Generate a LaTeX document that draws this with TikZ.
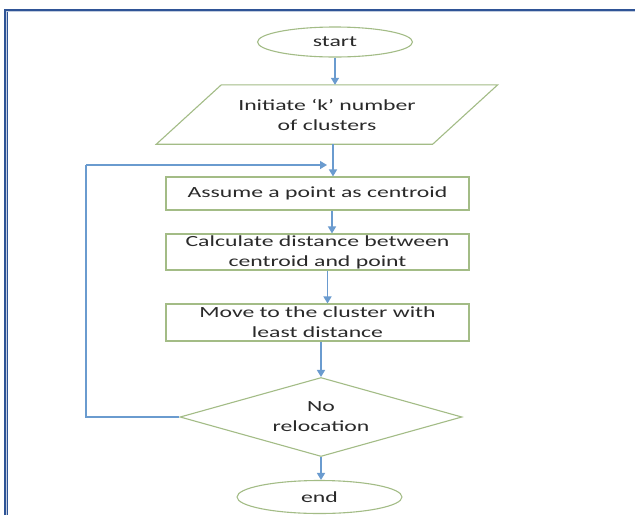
\documentclass[tikz,border=0pt]{standalone}
\usepackage{fontspec}
\setmainfont{Carlito}[FakeStretch=1.53]
\usetikzlibrary{arrows.meta,shapes.geometric}
\definecolor{shapegreen}{HTML}{A3BC86}
\definecolor{arrblue}{HTML}{6A9BCF}
\definecolor{framebl}{HTML}{2F5496}
\definecolor{txt}{HTML}{2A2A2A}
\tikzset{
  every node/.style={text=txt, font=\fontsize{15.5}{20}\selectfont, align=center, inner sep=0pt},
  term/.style={ellipse, draw=shapegreen, line width=1.1pt},
  procbox/.style={rectangle, draw=shapegreen, line width=1.1pt, minimum width=303pt},
  decide/.style={diamond, draw=shapegreen, line width=1.1pt, minimum width=282pt, minimum height=79pt, aspect=3.57},
  outline/.style={draw=shapegreen, line width=1.1pt, line join=miter},
  arr/.style={draw=arrblue, line width=1.4pt, -{Triangle[width=8pt,length=7pt]}},
  fbline/.style={draw=arrblue, line width=1.4pt}
}
\begin{document}
\begin{tikzpicture}[x=1pt,y=-1pt]
\useasboundingbox (0,0) rectangle (635,515);
\fill[white] (0,0) rectangle (635,515);
% frame
\draw[framebl, line width=3.2pt] (6,515) -- (6,10.5) -- (635,10.5);
\draw[white!70!framebl, line width=0.5pt] (6.3,515) -- (6.3,10.8) -- (635,10.8);

\node[term, minimum width=155pt, minimum height=30pt] (start) at (335,42) {start};
\node[minimum width=341pt, minimum height=59pt] (para) at (327,114.5) {Initiate ‘k’ number\\of clusters};
\draw[outline] (para.south west) -- ([xshift=-65pt]para.south east) -- (para.north east) -- ([xshift=65pt]para.north west) -- cycle;
\node[procbox, minimum height=33pt] (box1) at (317.5,193.5) {Assume a point as centroid};
\node[procbox, minimum height=36pt] (box2) at (317.5,252) {Calculate distance between\\centroid and point};
\node[procbox, minimum height=37pt] (box3) at (317.5,322.5) {Move to the cluster with\\least distance};
\node[decide] (dia) at (321,417) {No\\relocation};
\node[term, minimum width=165pt, minimum height=33pt] (end) at (319.5,497) {end};

\coordinate (fbl) at (86,417);
\coordinate (fbt) at (86,165);
\coordinate (fbe) at (327,165);

\draw[arr] (start.south) -- ([xshift=8pt]para.north);
\draw[arr] ([xshift=6pt]para.south) -- ([xshift=15.5pt]box1.north);
\draw[arr] ([xshift=14.5pt]box1.south) -- ([xshift=14.5pt]box2.north);
\draw[arr] ([xshift=10pt]box2.south) -- ([xshift=10pt]box3.north);
\draw[arr] ([xshift=3.5pt]box3.south) -- (dia.north);
\draw[arr] (dia.south) -- (end.north -| dia.south);
\draw[fbline] (dia.west) -- (fbl) -- (fbt);
\draw[arr] (fbt) -- (fbe);
\end{tikzpicture}
\end{document}
